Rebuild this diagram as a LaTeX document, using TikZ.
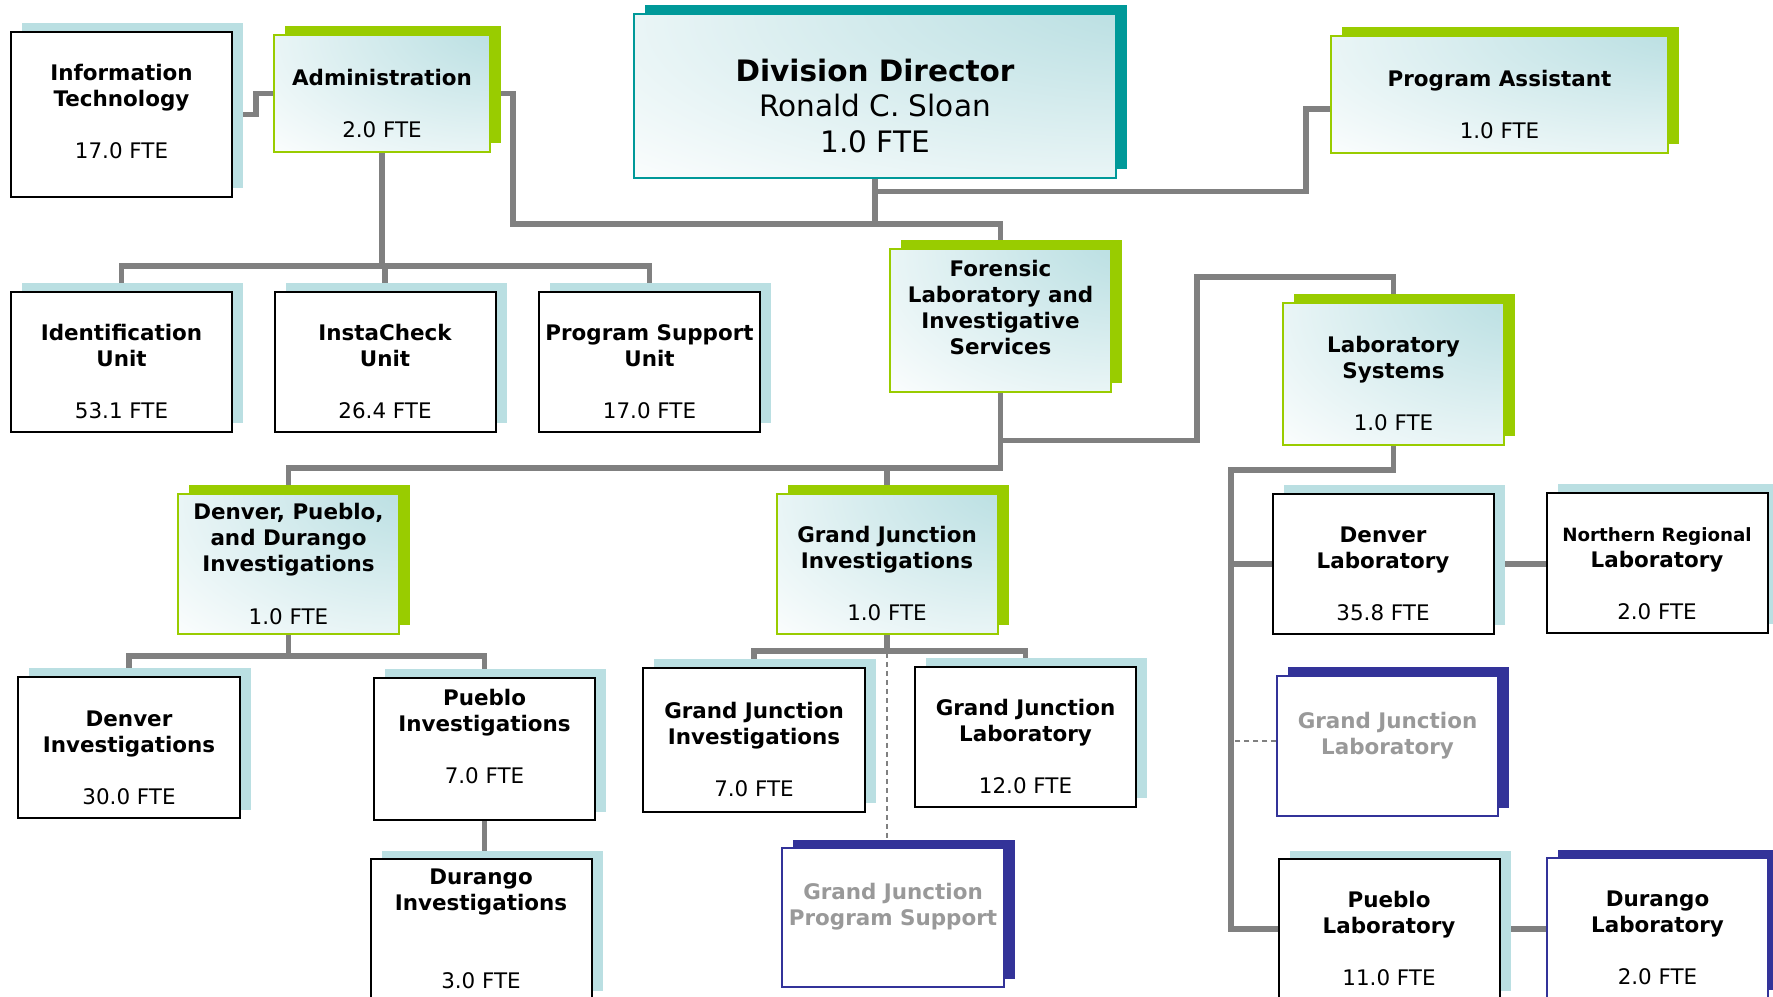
\documentclass[tikz,border=0pt]{standalone}
\usepackage{fontspec}
\setmainfont{DejaVu Sans}
\usepackage{xcolor}
\usepackage{tikz}
\usetikzlibrary{shadows,backgrounds}
\definecolor{ChartGreen}{HTML}{99CC00}
\definecolor{ChartTeal}{HTML}{009999}
\definecolor{ChartNavy}{HTML}{333399}
\definecolor{ChartGray}{HTML}{808080}
\definecolor{FadedGray}{HTML}{999999}
\definecolor{SoftBlue}{HTML}{BADFE2}
\definecolor{GlowBlue}{HTML}{BCE0E3}
\pgfdeclareradialshading{boxglow}{\pgfpoint{35bp}{35bp}}{color(0bp)=(GlowBlue); color(10bp)=(GlowBlue); color(65bp)=(white); color(130bp)=(white)}
\newcommand{\boxstrut}{\rule{0pt}{3.6mm}}

\begin{document}
\begin{tikzpicture}[x=1cm,y=1cm,
  orgbox/.style={rectangle,inner sep=0pt,align=center,minimum width=2.21cm,minimum height=1.40cm,
    font=\fontsize{6.1}{7.4}\selectfont\bfseries},
  plainunit/.style={orgbox,draw=black,fill=white,line width=.2mm,
    general shadow={fill=SoftBlue,shadow xshift=1.1mm,shadow yshift=.85mm}},
  leadunit/.style={orgbox,draw=ChartGreen,shade,shading=boxglow,line width=.2mm,
    general shadow={fill=ChartGreen,shadow xshift=1.1mm,shadow yshift=.85mm}},
  plannedunit/.style={orgbox,draw=ChartNavy,fill=white,text=FadedGray,line width=.15mm,
    general shadow={fill=ChartNavy,shadow xshift=1.1mm,shadow yshift=.85mm}},
  chief/.style={orgbox,minimum width=4.82cm,minimum height=1.64cm,draw=ChartTeal,line width=.15mm,
    shade,shading=boxglow,font=\fontsize{8.4}{10.1}\selectfont\bfseries,
    general shadow={fill=ChartTeal,shadow xshift=1.1mm,shadow yshift=.85mm}},
  link/.style={draw=ChartGray,line width=.55mm},
  planlink/.style={draw=ChartGray,line width=.15mm,dash pattern=on .5mm off .4mm}]
  \useasboundingbox (0,0) rectangle (17.73,-9.97);

  % top row
  \node[plainunit,minimum height=1.65cm] (it) at (1.215,-1.145) {\boxstrut Information\\Technology\\[2.6mm]\mdseries 17.0 FTE\\\mbox{}};
  \node[leadunit,minimum width=2.16cm,minimum height=1.17cm] (admin) at (3.82,-0.935) {\boxstrut Administration\\[2.6mm]\mdseries 2.0 FTE};
  \node[chief] (director) at (8.75,-0.96) {\rule{0pt}{4.2mm}Division Director\\\mdseries Ronald C. Sloan\\\mdseries 1.0 FTE};
  \node[leadunit,minimum width=3.37cm,minimum height=1.17cm] (pa) at (14.995,-0.945) {\boxstrut Program Assistant\\[2.6mm]\mdseries 1.0 FTE};

  % administration units
  \node[plainunit] (ident) at (1.215,-3.62) {\boxstrut Identification\\Unit\\[2.6mm]\mdseries 53.1 FTE};
  \node[plainunit] (insta) at (3.85,-3.62) {\boxstrut InstaCheck\\Unit\\[2.6mm]\mdseries 26.4 FTE};
  \node[plainunit] (progsup) at (6.495,-3.62) {\boxstrut Program Support\\Unit\\[2.6mm]\mdseries 17.0 FTE};

  % forensic services
  \node[leadunit,minimum height=1.43cm] (forensic) at (10.005,-3.205) {Forensic\\Laboratory and\\Investigative\\Services\\\mbox{}};
  \node[leadunit,minimum height=1.42cm] (labsys) at (13.935,-3.74) {\boxstrut Laboratory\\Systems\\[2.6mm]\mdseries 1.0 FTE};
  \node[leadunit] (dpd) at (2.885,-5.64) {Denver, Pueblo,\\and Durango\\Investigations\\[2.6mm]\mdseries 1.0 FTE};
  \node[leadunit] (gjinv) at (8.87,-5.64) {\boxstrut Grand Junction\\Investigations\\[2.6mm]\mdseries 1.0 FTE};

  % laboratories
  \node[plainunit] (denlab) at (13.83,-5.64) {\boxstrut Denver\\Laboratory\\[2.6mm]\mdseries 35.8 FTE};
  \node[plainunit] (nrlab) at (16.57,-5.63) {\boxstrut{\fontsize{5.2}{7.4}\selectfont Northern Regional}\\Laboratory\\[2.6mm]\mdseries 2.0 FTE};
  \node[plannedunit] (gjlabx) at (13.875,-7.46) {Grand Junction\\Laboratory\\\mbox{}};
  \node[plainunit] (puelab) at (13.89,-9.29) {\boxstrut Pueblo\\Laboratory\\[2.6mm]\mdseries 11.0 FTE};
  \node[plannedunit,text=black] (durlab) at (16.575,-9.28) {\boxstrut Durango\\Laboratory\\[2.6mm]\mdseries 2.0 FTE};

  % investigations
  \node[plainunit,minimum width=2.22cm,minimum height=1.41cm] (deninv) at (1.29,-7.475) {\boxstrut Denver\\Investigations\\[2.6mm]\mdseries 30.0 FTE};
  \node[plainunit,minimum height=1.42cm] (pueinv) at (4.845,-7.49) {Pueblo\\Investigations\\[2.6mm]\mdseries 7.0 FTE\\\mbox{}};
  \node[plainunit] (durinv) at (4.81,-9.29) {Durango\\Investigations\\[5.2mm]\mdseries 3.0 FTE};
  \node[plainunit,minimum width=2.22cm,minimum height=1.44cm] (gjinv2) at (7.54,-7.40) {\boxstrut Grand Junction\\Investigations\\[2.6mm]\mdseries 7.0 FTE};
  \node[plainunit] (gjlab) at (10.255,-7.37) {\boxstrut Grand Junction\\Laboratory\\[2.6mm]\mdseries 12.0 FTE};
  \node[plannedunit,minimum width=2.22cm,minimum height=1.39cm] (gjps) at (8.93,-9.175) {Grand Junction\\Program Support\\\mbox{}};

  \coordinate (trunk) at ([yshift=2.4mm]forensic.north);
  \coordinate (labspine) at ([xshift=-16.25mm,yshift=-2.4mm]labsys.south);

  \begin{pgfonlayer}{background}
    \fill[white] (0,0) rectangle (17.73,-9.97);
    % connectors
    \draw[link] (it.east) -- ++(.23,0) |- (admin.west);
    \draw[link] (admin.east) -- ++(.22,0) |- (trunk) -- (forensic.north);
    \draw[link] (director.south) -- (director.south |- trunk);
    \draw[link] ([yshift=-1.45mm]pa.west) -- ++(-.24,0) |- ([yshift=-1.3mm]director.south);
    \draw[link] (admin.south) -- ++(0,-1.15);
    \draw[link] (ident.north) -- ++(0,.25) -| (progsup.north);
    \draw[link] (insta.north) -- ++(0,.25);
    \draw[link] (dpd.north) -- ++(0,.25) -| (forensic.south);
    \draw[link] (gjinv.north) -- ++(0,.25);
    \draw[link] ([yshift=-4.75mm]forensic.south) -- ++(1.965,0) |- ([yshift=2.5mm]labsys.north) -- (labsys.north);
    \draw[link] (labsys.south) |- (labspine) |- (puelab.west);
    \draw[link] (denlab.west) -- (denlab.west -| labspine);
    \draw[planlink] ([yshift=.5mm]gjlabx.west) -- ++(-.46,0);
    \draw[link] (denlab.east) -- (denlab.east -| nrlab.west);
    \draw[link] (puelab.east) -- (puelab.east -| durlab.west);
    \draw[link] (dpd.south) -- ++(0,-.23);
    \draw[link] (deninv.north) -- ++(0,.2) -| (pueinv.north);
    \draw[link] (pueinv.south) -- (pueinv.south |- durinv.north);
    \draw[link] (gjinv.south) -- ++(0,-.18);
    \draw[link] (gjinv2.north) -- ++(0,.16) -| (gjlab.north);
    \draw[planlink] (gjinv.south) -- (gjinv.south |- gjps.north);
  \end{pgfonlayer}
\end{tikzpicture}
\end{document}
